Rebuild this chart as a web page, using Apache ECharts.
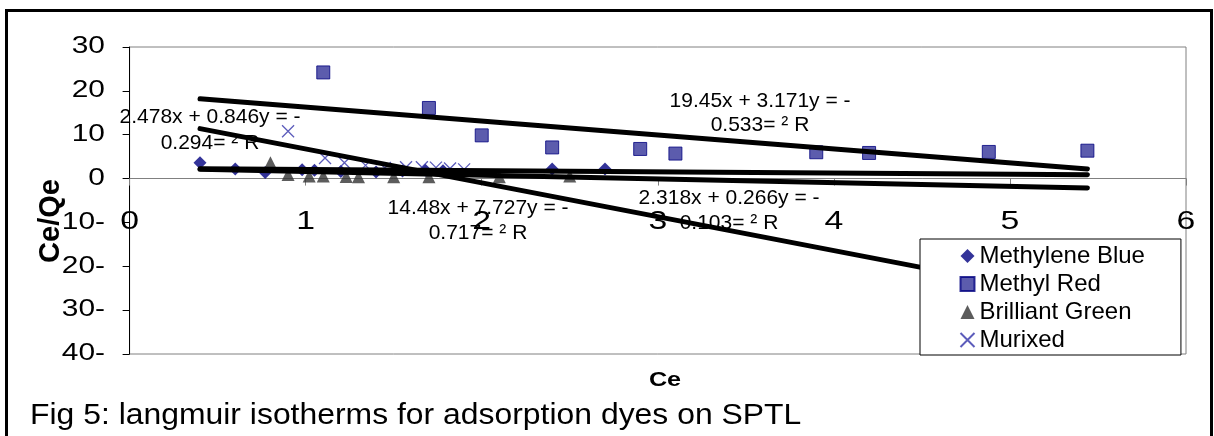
<!DOCTYPE html>
<html>
<head>
<meta charset="utf-8">
<script src="https://cdn.jsdelivr.net/npm/echarts@6/dist/echarts.min.js"></script>
<style>
  html, body { margin: 0; padding: 0; background: #ffffff; }
  #chart { width: 1214px; height: 436px; }
</style>
</head>
<body>
<div id="chart"></div>
<script>
// Langmuir linear form: Ce/Qe against Ce for four dyes
const seriesNames = ['Methylene Blue', 'Methyl Red', 'Brilliant Green', 'Murixed'];

const methyleneBlueCe    = [0.40, 0.60, 0.77, 0.98, 1.05, 1.20, 1.40, 1.55, 1.68, 1.78, 2.40, 2.70];
const methyleneBlueRatio = [3.6, 2.2, 1.4, 2.0, 1.9, 1.6, 1.5, 1.7, 1.9, 1.8, 2.2, 2.2];

const methylRedCe    = [1.10, 1.70, 2.00, 2.40, 2.90, 3.10, 3.90, 4.20, 4.88, 5.44];
const methylRedRatio = [24.2, 16.1, 9.85, 7.1, 6.75, 5.7, 6.0, 5.84, 6.07, 6.36];

const brilliantGreenCe    = [0.80, 0.90, 1.02, 1.10, 1.23, 1.30, 1.50, 1.70, 2.10, 2.50];
const brilliantGreenRatio = [3.6, 0.9, 0.6, 0.6, 0.5, 0.4, 0.4, 0.4, 0.4, 0.6];

const murixedCe    = [0.90, 1.11, 1.22, 1.34, 1.45, 1.57, 1.66, 1.74, 1.82, 1.90];
const murixedRatio = [10.8, 4.7, 3.6, 3.0, 2.4, 2.6, 2.6, 2.5, 2.3, 2.1];

// Linear fits Ce/Qe = slope * Ce + intercept, in series order
const fitSlope     = [-0.846, -3.171, -0.266, -7.727];
const fitIntercept = [2.478, 19.45, 2.318, 14.48];
const fitR2        = ['0.294', '0.533', '0.103', '0.717'];
const fitCeRange   = [0.40, 5.44];

// Axis ticks
const xTickValues = [0, 1, 2, 3, 4, 5, 6];
const yTickValues = [-40, -30, -20, -10, 0, 10, 20, 30];
const yTickLabels = ['40-', '30-', '20-', '10-', '0', '10', '20', '30'];

const FONT = '"Liberation Sans", Arial, Helvetica, sans-serif';

function pairs(xs, ys) { return xs.map((x, i) => [x, ys[i]]); }

const pointSets = [
  pairs(methyleneBlueCe, methyleneBlueRatio),
  pairs(methylRedCe, methylRedRatio),
  pairs(brilliantGreenCe, brilliantGreenRatio),
  pairs(murixedCe, murixedRatio)
];

const markerStyles = [
  { symbol: 'diamond', symbolSize: 13, itemStyle: { color: '#000080' } },
  { symbol: 'rect', symbolSize: 13, itemStyle: { color: '#333399', borderColor: '#000080', borderWidth: 1 } },
  { symbol: 'triangle', symbolSize: 13, itemStyle: { color: '#333333' } },
  { symbol: 'path://M0,0L10,10M10,0L0,10', symbolSize: 12,
    itemStyle: { color: 'none', borderColor: '#3333aa', borderWidth: 1.3 } }
];

const scatterSeries = seriesNames.map((name, i) => Object.assign({
  name: name,
  type: 'scatter',
  data: pointSets[i],
  z: 2
}, markerStyles[i]));

const trendSeries = seriesNames.map((name, i) => ({
  name: name + ' fit',
  type: 'line',
  data: fitCeRange.map(x => [x, fitSlope[i] * x + fitIntercept[i]]),
  symbol: 'none',
  lineStyle: { color: '#000000', width: 5, cap: 'round' },
  z: 3,
  silent: true
}));

const chart = echarts.init(document.getElementById('chart'), null, { renderer: 'canvas' });

chart.setOption({
  animation: false,
  backgroundColor: '#ffffff',
  grid: {
    left: 129.6, right: 28, top: 47, bottom: 82,
    show: true, borderColor: '#808080', borderWidth: 1, backgroundColor: 'transparent'
  },
  legend: {
    data: seriesNames,
    orient: 'vertical',
    left: 920, top: 239,
    padding: [5, 36, 3, 38],
    itemWidth: 14, itemHeight: 14, itemGap: 4,
    backgroundColor: '#ffffff',
    borderColor: '#000000', borderWidth: 1,
    textStyle: { fontFamily: FONT, fontSize: 24, color: '#000', lineHeight: 24 },
    z: 20
  },
  xAxis: {
    type: 'value', min: 0, max: 6, interval: 1,
    axisLine: { onZero: true, lineStyle: { color: '#808080', width: 1 } },
    axisTick: { show: true, length: 7, lineStyle: { color: '#808080' } },
    axisLabel: { show: false },
    splitLine: { show: false }
  },
  yAxis: {
    type: 'value', min: -40, max: 30, interval: 10,
    axisLine: { show: true, onZero: false, lineStyle: { color: '#000000', width: 1 } },
    axisTick: { show: true, length: 7, lineStyle: { color: '#000000' } },
    axisLabel: { show: false },
    splitLine: { show: false }
  },
  series: scatterSeries.concat(trendSeries)
});

// Tick labels are set in a horizontally widened face, placed through the axis scales
const tickGraphics = [];
xTickValues.forEach(v => {
  tickGraphics.push({
    type: 'text', x: chart.convertToPixel({ xAxisIndex: 0 }, v), y: 222, scaleX: 1.3, z: 10,
    style: { text: String(v), font: '26px ' + FONT, fill: '#000', align: 'center', verticalAlign: 'middle' }
  });
});
yTickValues.forEach((v, i) => {
  tickGraphics.push({
    type: 'text', x: 105, y: chart.convertToPixel({ yAxisIndex: 0 }, v), scaleX: 1.3, z: 10,
    style: { text: yTickLabels[i], font: '23px ' + FONT, fill: '#000', align: 'right', verticalAlign: 'middle' }
  });
});

// Equation label anchors (pixel centres of the two text lines)
const eqAnchors = [
  { x: 210, y: 117, gap: 26 },
  { x: 760, y: 101, gap: 24 },
  { x: 729, y: 198, gap: 25 },
  { x: 478, y: 208, gap: 25 }
];
const eqGraphics = [];
eqAnchors.forEach((a, i) => {
  const line1 = fitIntercept[i] + 'x + ' + Math.abs(fitSlope[i]) + 'y = -';
  const line2 = fitR2[i] + '= \u00b2 R';
  [line1, line2].forEach((t, k) => {
    eqGraphics.push({
      type: 'text', x: a.x, y: a.y + k * a.gap, z: 10,
      style: { text: t, font: '21px ' + FONT, fill: '#000', align: 'center', verticalAlign: 'middle' }
    });
  });
});

chart.setOption({
  graphic: [
    { type: 'rect', shape: { x: 6.5, y: 10.5, width: 1205, height: 440 }, z: 0,
      style: { fill: 'none', stroke: '#000000', lineWidth: 3 } },
    { type: 'text', x: 51, y: 221, rotation: Math.PI / 2, z: 10,
      style: { text: 'Ce/Qe', font: 'bold 29px ' + FONT, fill: '#000', align: 'center', verticalAlign: 'middle' } },
    { type: 'text', x: 665, y: 380, scaleX: 1.2, z: 10,
      style: { text: 'Ce', font: 'bold 21px ' + FONT, fill: '#000', align: 'center', verticalAlign: 'middle' } },
    { type: 'text', x: 30, y: 416, scaleX: 1.1, z: 10,
      style: { text: 'Fig 5: langmuir isotherms for adsorption dyes on SPTL', font: '29px ' + FONT,
               fill: '#000', align: 'left', verticalAlign: 'middle' } }
  ].concat(tickGraphics, eqGraphics)
});
</script>
</body>
</html>
